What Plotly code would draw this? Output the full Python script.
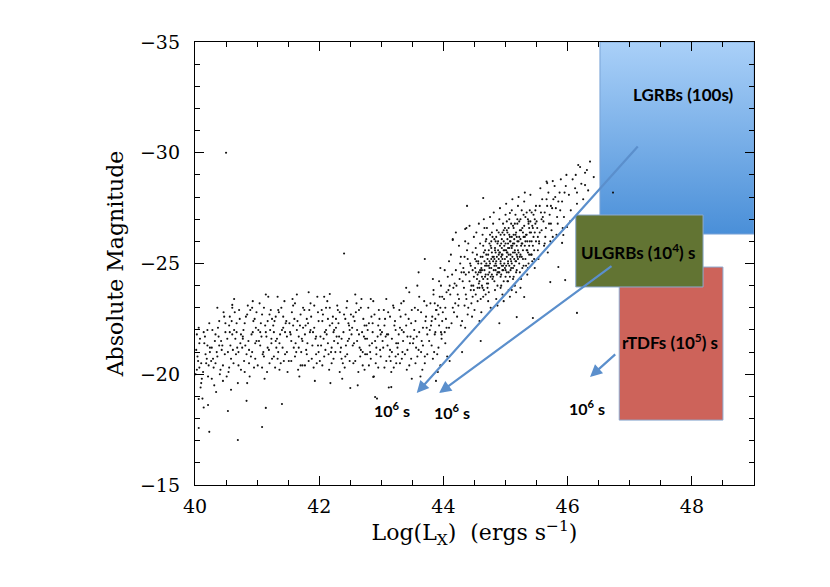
import plotly.graph_objects as go

# ---------------- data ----------------
band_pts = [
    (40.02,-21.1),(40.05,-20.6),(40.08,-21.6),(40.03,-20.2),(40.11,-19.8),(40.14,-21.9),(40.17,-20.9),(40.2,-21.3),(40.09,-19.4),(40.22,-20.4),(40.12,-18.9),(40.24,-21.0),(40.06,-22.1),(40.19,-20.7),(40.15,-21.4),(40.01,-20.0),(40.23,-22.3),(40.1,-20.5),
    (40.27,-21.2),(40.3,-20.3),(40.33,-21.8),(40.36,-20.8),(40.39,-22.4),(40.42,-21.5),(40.45,-19.7),(40.48,-20.9),(40.28,-22.0),(40.35,-21.0),(40.41,-20.2),(40.47,-22.6),(40.31,-19.5),(40.44,-21.3),(40.38,-21.7),(40.26,-20.6),(40.49,-21.9),(40.34,-19.2),
    (40.52,-21.6),(40.55,-22.2),(40.58,-20.7),(40.61,-21.1),(40.64,-22.8),(40.67,-21.9),(40.7,-20.4),(40.73,-21.4),(40.54,-20.1),(40.6,-23.0),(40.66,-20.9),(40.72,-22.5),(40.57,-21.3),(40.69,-19.6),(40.74,-21.8),(40.63,-22.0),(40.51,-19.9),(40.68,-21.2),(40.56,-22.6),
    (40.77,-21.7),(40.8,-22.3),(40.83,-20.9),(40.86,-21.5),(40.89,-22.9),(40.92,-21.0),(40.95,-20.3),(40.98,-22.1),(40.79,-20.6),(40.85,-23.1),(40.91,-21.8),(40.97,-20.7),(40.82,-22.6),(40.88,-19.9),(40.94,-22.4),(40.76,-21.2),(40.99,-21.5),(40.87,-20.5),(40.93,-23.3),
    (41.02,-22.0),(41.05,-21.3),(41.08,-22.7),(41.11,-20.8),(41.14,-21.9),(41.17,-22.4),(41.2,-20.5),(41.23,-21.6),(41.04,-23.2),(41.1,-21.0),(41.16,-20.1),(41.22,-22.9),(41.07,-21.7),(41.13,-22.2),(41.19,-21.1),(41.01,-20.4),(41.24,-22.5),(41.12,-19.8),(41.18,-23.5),
    (41.27,-21.9),(41.3,-22.6),(41.33,-20.7),(41.36,-21.4),(41.39,-23.0),(41.42,-22.1),(41.45,-20.9),(41.48,-21.7),(41.29,-20.3),(41.35,-22.8),(41.41,-21.2),(41.47,-22.4),(41.32,-21.6),(41.38,-20.5),(41.44,-23.3),(41.26,-22.2),(41.49,-20.1),(41.34,-21.0),(41.4,-22.0),
    (41.52,-22.3),(41.55,-21.5),(41.58,-23.1),(41.61,-20.8),(41.64,-22.0),(41.67,-21.2),(41.7,-22.7),(41.73,-20.4),(41.54,-21.8),(41.6,-22.5),(41.66,-20.2),(41.72,-21.6),(41.57,-23.4),(41.63,-21.0),(41.69,-22.2),(41.51,-20.6),(41.74,-23.0),(41.62,-21.4),(41.68,-19.9),
    (41.77,-21.8),(41.8,-22.5),(41.83,-20.6),(41.86,-23.2),(41.89,-21.3),(41.92,-22.1),(41.95,-20.9),(41.98,-22.8),(41.79,-21.1),(41.85,-21.9),(41.91,-20.3),(41.97,-23.5),(41.82,-22.3),(41.88,-20.7),(41.94,-21.6),(41.76,-22.9),(41.99,-21.0),(41.87,-22.6),(41.93,-19.7),
    (42.02,-21.7),(42.05,-22.4),(42.08,-20.8),(42.11,-23.0),(42.14,-21.4),(42.17,-22.2),(42.2,-20.5),(42.23,-21.9),(42.04,-22.9),(42.1,-21.1),(42.16,-20.2),(42.22,-22.6),(42.07,-21.6),(42.13,-23.3),(42.19,-21.0),(42.01,-20.6),(42.24,-22.0),(42.12,-21.8),(42.18,-19.6),
    (42.27,-22.1),(42.3,-21.4),(42.33,-22.8),(42.36,-20.7),(42.39,-21.9),(42.42,-22.5),(42.45,-20.9),(42.48,-21.6),(42.29,-23.1),(42.35,-21.2),(42.41,-20.3),(42.47,-22.3),(42.32,-21.7),(42.38,-20.5),(42.44,-23.0),(42.26,-21.0),(42.49,-22.0),(42.37,-19.8),(42.43,-21.3),
    (42.52,-21.8),(42.55,-22.6),(42.58,-20.6),(42.61,-21.5),(42.64,-22.9),(42.67,-21.1),(42.7,-20.4),(42.73,-22.2),(42.54,-21.3),(42.6,-23.2),(42.66,-20.8),(42.72,-21.7),(42.57,-22.4),(42.63,-20.1),(42.69,-21.9),(42.51,-22.7),(42.74,-20.9),(42.62,-19.5),(42.68,-23.4),
    (42.77,-21.6),(42.8,-22.3),(42.83,-20.7),(42.86,-21.9),(42.89,-22.7),(42.92,-21.2),(42.95,-20.3),(42.98,-22.0),(42.79,-23.0),(42.85,-21.4),(42.91,-20.5),(42.97,-22.5),(42.82,-21.0),(42.88,-19.9),(42.94,-21.7),(42.76,-22.2),(42.99,-20.8),(42.87,-23.3),(42.93,-18.9),
    (43.02,-21.5),(43.05,-22.2),(43.08,-20.6),(43.11,-21.8),(43.14,-22.6),(43.17,-21.0),(43.2,-20.3),(43.23,-22.0),(43.04,-22.9),(43.1,-21.3),(43.16,-20.1),(43.22,-22.4),(43.07,-21.7),(43.13,-20.8),(43.19,-23.1),(43.01,-21.9),(43.24,-20.5),(43.12,-19.4),
    (43.27,-21.4),(43.3,-22.1),(43.33,-20.7),(43.36,-21.9),(43.39,-22.7),(43.42,-21.1),(43.45,-20.4),(43.48,-22.3),(43.29,-22.9),(43.35,-21.5),(43.41,-20.2),(43.47,-21.7),(43.32,-23.2),(43.38,-20.9),(43.44,-22.5),(43.26,-21.2),(43.49,-19.8),
    (43.52,-21.6),(43.55,-22.4),(43.58,-20.8),(43.61,-21.9),(43.64,-22.8),(43.67,-21.3),(43.7,-20.5),(43.73,-22.1),(43.54,-23.0),(43.6,-21.1),(43.66,-20.2),(43.72,-22.6),(43.57,-21.7),(43.63,-19.9),(43.69,-23.3),(43.51,-21.4),(43.74,-20.9),
    (43.77,-21.5),(43.8,-22.2),(43.83,-20.7),(43.86,-21.8),(43.89,-22.9),(43.92,-21.2),(43.95,-20.4),(43.98,-22.4),(43.79,-23.2),(43.85,-21.0),(43.91,-20.1),(43.97,-21.6),(43.82,-22.6),(43.88,-19.7),(43.94,-23.5),
]

band_pts_2 = [
    (40.04,-20.8),(40.07,-21.4),(40.13,-20.1),(40.16,-21.7),(40.21,-19.9),(40.18,-20.5),(40.03,-21.8),(40.24,-21.2),(40.1,-19.6),(40.2,-22.0),(40.07,-20.3),(40.14,-18.5),
    (40.29,-20.7),(40.32,-21.5),(40.37,-22.1),(40.4,-20.0),(40.43,-21.1),(40.46,-22.8),(40.27,-19.8),(40.33,-20.5),(40.39,-21.3),(40.45,-20.4),(40.49,-22.3),(40.36,-23.0),
    (40.53,-21.0),(40.56,-21.9),(40.59,-22.4),(40.62,-20.5),(40.65,-21.6),(40.71,-22.9),(40.74,-20.2),(40.55,-20.3),(40.6,-21.8),(40.67,-22.3),(40.7,-21.0),(40.58,-19.3),(40.63,-23.4),
    (40.78,-22.0),(40.81,-21.3),(40.84,-22.7),(40.9,-20.8),(40.93,-21.9),(40.96,-22.5),(40.8,-20.1),(40.87,-21.1),(40.92,-23.0),(40.97,-21.4),(40.84,-19.6),(40.99,-22.8),(40.77,-21.6),
    (41.03,-21.5),(41.06,-22.3),(41.09,-20.9),(41.15,-21.7),(41.21,-22.0),(41.24,-20.7),(41.05,-21.9),(41.11,-23.0),(41.17,-21.2),(41.2,-22.7),(41.08,-20.3),(41.14,-23.6),(41.23,-21.4),
    (41.28,-22.4),(41.31,-21.2),(41.34,-22.9),(41.37,-21.8),(41.43,-20.6),(41.46,-22.3),(41.3,-21.5),(41.36,-20.2),(41.42,-22.6),(41.48,-21.0),(41.33,-23.5),(41.45,-21.9),(41.27,-20.8),
    (41.53,-21.9),(41.56,-22.8),(41.59,-21.2),(41.65,-22.4),(41.71,-21.0),(41.74,-22.1),(41.55,-20.6),(41.61,-23.2),(41.67,-21.7),(41.7,-20.4),(41.58,-22.2),(41.64,-23.6),(41.73,-21.5),
    (41.78,-22.2),(41.81,-21.4),(41.84,-22.9),(41.9,-21.9),(41.96,-20.5),(41.99,-22.4),(41.8,-20.9),(41.86,-22.0),(41.92,-23.1),(41.98,-21.3),(41.83,-23.7),(41.95,-21.7),(41.77,-20.4),
    (42.03,-21.3),(42.06,-22.7),(42.09,-21.9),(42.15,-20.9),(42.21,-22.3),(42.24,-21.5),(42.05,-20.4),(42.11,-22.0),(42.17,-23.0),(42.2,-21.2),(42.08,-23.5),(42.14,-22.5),(42.23,-20.7),
    (42.28,-21.7),(42.31,-22.3),(42.34,-21.0),(42.4,-22.7),(42.46,-21.5),(42.49,-20.6),(42.3,-22.9),(42.36,-21.6),(42.42,-20.8),(42.48,-22.2),(42.33,-20.1),(42.45,-23.3),(42.27,-22.5),
    (42.53,-22.1),(42.56,-21.4),(42.59,-22.8),(42.65,-21.2),(42.71,-22.5),(42.74,-21.6),(42.55,-20.5),(42.61,-22.0),(42.67,-23.0),(42.7,-21.0),(42.58,-23.6),(42.64,-21.8),(42.73,-20.2),
    (42.78,-22.0),(42.81,-21.3),(42.84,-22.6),(42.9,-21.5),(42.96,-22.9),(42.99,-21.8),(42.8,-20.4),(42.86,-22.3),(42.92,-20.9),(42.98,-21.1),(42.83,-23.4),(42.95,-22.2),(42.77,-20.9),
    (43.03,-21.2),(43.06,-22.5),(43.09,-21.8),(43.15,-20.6),(43.21,-22.2),(43.24,-21.4),(43.05,-20.3),(43.11,-22.8),(43.17,-21.6),(43.2,-23.0),(43.08,-23.4),(43.14,-21.1),(43.23,-20.8),
    (43.28,-21.8),(43.31,-22.6),(43.34,-21.0),(43.4,-22.2),(43.46,-21.4),(43.49,-22.9),(43.3,-20.5),(43.36,-23.3),(43.42,-21.7),(43.48,-20.7),(43.33,-22.0),(43.45,-23.7),(43.27,-20.9),
    (43.53,-22.0),(43.56,-21.2),(43.59,-22.9),(43.65,-21.5),(43.71,-22.4),(43.74,-21.8),(43.55,-20.5),(43.61,-23.5),(43.67,-22.1),(43.7,-20.8),(43.58,-24.0),(43.64,-21.0),(43.73,-23.1),
    (43.78,-22.0),(43.81,-21.3),(43.87,-22.5),(43.9,-20.9),(43.96,-21.9),(43.99,-22.8),(44.03,-21.4),(44.06,-20.8),(44.09,-22.1),(43.84,-23.8),(43.93,-24.2),(44.02,-21.9),
]

rise_pts = [
    (43.81,-22.4),(43.84,-23.6),(43.87,-21.9),(43.83,-24.3),(43.88,-22.9),(43.86,-23.2),
    (43.91,-23.1),(43.93,-22.2),(43.96,-24.0),(43.92,-22.7),(43.98,-23.5),(43.95,-24.8),(43.97,-21.8),
    (44.01,-23.4),(44.04,-22.5),(44.07,-24.4),(44.03,-23.0),(44.09,-25.1),(44.05,-22.1),(44.08,-23.8),(44.02,-24.7),
    (44.11,-23.6),(44.14,-24.5),(44.17,-22.8),(44.12,-25.4),(44.19,-23.2),(44.15,-26.1),(44.13,-22.3),(44.18,-24.1),(44.16,-23.9),
    (44.21,-24.0),(44.24,-23.1),(44.27,-25.0),(44.22,-22.6),(44.29,-24.6),(44.25,-25.8),(44.23,-23.6),(44.28,-22.2),(44.26,-24.3),(44.2,-26.4),
    (44.31,-24.2),(44.34,-25.3),(44.37,-23.4),(44.32,-24.8),(44.39,-22.7),(44.35,-26.0),(44.33,-23.9),(44.38,-25.6),(44.36,-24.5),(44.3,-22.4),(44.37,-26.6),(44.34,-23.1),
    (44.41,-24.6),(44.44,-23.8),(44.47,-25.5),(44.42,-24.2),(44.49,-26.2),(44.45,-23.2),(44.43,-25.0),(44.48,-24.0),(44.46,-22.6),(44.4,-25.9),(44.44,-24.9),(44.47,-23.5),(44.42,-26.7),(44.49,-24.4),
    (44.51,-24.8),(44.54,-25.4),(44.57,-24.1),(44.52,-23.6),(44.59,-25.9),(44.55,-24.5),(44.53,-26.4),(44.58,-23.9),(44.56,-25.1),(44.5,-22.9),(44.54,-24.3),(44.57,-26.8),(44.52,-25.7),(44.59,-24.7),(44.55,-23.3),(44.51,-25.2),(44.58,-22.4),
    (44.61,-25.0),(44.64,-24.3),(44.67,-25.6),(44.62,-24.7),(44.69,-26.1),(44.65,-23.8),(44.63,-25.3),(44.68,-24.5),(44.66,-26.6),(44.6,-23.4),(44.64,-25.8),(44.67,-24.9),(44.62,-24.0),(44.69,-25.4),(44.65,-27.0),(44.61,-22.8),(44.68,-23.6),(44.63,-26.3),(44.66,-25.1),(44.6,-24.6),
    (44.71,-25.2),(44.74,-24.6),(44.77,-25.7),(44.72,-24.1),(44.79,-26.2),(44.75,-25.0),(44.73,-23.7),(44.78,-25.5),(44.76,-24.4),(44.7,-26.6),(44.74,-25.9),(44.77,-24.8),(44.72,-23.3),(44.79,-25.3),(44.75,-27.1),(44.71,-24.3),(44.78,-26.4),(44.73,-25.6),(44.76,-23.0),(44.7,-24.9),(44.74,-25.1),(44.77,-26.0),(44.72,-24.5),
    (44.81,-25.3),(44.84,-24.7),(44.87,-25.9),(44.82,-24.2),(44.89,-26.4),(44.85,-25.1),(44.83,-23.8),(44.88,-25.6),(44.86,-24.5),(44.8,-26.8),(44.84,-25.0),(44.87,-24.0),(44.82,-26.1),(44.89,-25.4),(44.85,-23.4),(44.81,-27.3),(44.88,-24.8),(44.83,-25.7),(44.86,-26.5),(44.8,-24.4),(44.84,-25.5),(44.87,-23.1),(44.82,-25.2),(44.89,-24.6),(44.85,-26.2),
    (44.91,-25.5),(44.94,-24.9),(44.97,-26.0),(44.92,-24.4),(44.99,-26.6),(44.95,-25.2),(44.93,-24.0),(44.98,-25.8),(44.96,-24.7),(44.9,-27.0),(44.94,-25.4),(44.97,-24.2),(44.92,-26.3),(44.99,-25.6),(44.95,-23.6),(44.91,-27.5),(44.98,-25.0),(44.93,-25.9),(44.96,-26.8),(44.9,-24.6),(44.94,-25.7),(44.97,-23.3),(44.92,-25.1),(44.99,-24.8),(44.95,-26.4),(44.93,-25.3),
    (45.01,-25.6),(45.04,-25.0),(45.07,-26.2),(45.02,-24.6),(45.09,-26.8),(45.05,-25.4),(45.03,-24.2),(45.08,-26.0),(45.06,-24.9),(45.0,-27.2),(45.04,-25.7),(45.07,-24.4),(45.02,-26.5),(45.09,-25.8),(45.05,-23.8),(45.01,-27.7),(45.08,-25.2),(45.03,-26.1),(45.06,-27.0),(45.0,-24.7),(45.04,-25.9),(45.07,-23.5),(45.02,-25.3),(45.09,-25.1),(45.05,-26.6),(45.03,-25.5),
    (45.11,-25.8),(45.14,-25.2),(45.17,-26.4),(45.12,-24.8),(45.19,-27.0),(45.15,-25.6),(45.13,-24.4),(45.18,-26.2),(45.16,-25.1),(45.1,-27.4),(45.14,-25.9),(45.17,-24.6),(45.12,-26.7),(45.19,-26.0),(45.15,-24.0),(45.11,-27.9),(45.18,-25.4),(45.13,-26.3),(45.16,-27.2),(45.1,-25.0),(45.14,-26.1),(45.17,-23.7),(45.12,-25.5),(45.19,-25.3),
    (45.21,-26.0),(45.24,-25.4),(45.27,-26.6),(45.22,-25.0),(45.29,-27.2),(45.25,-25.8),(45.23,-24.6),(45.28,-26.4),(45.26,-25.3),(45.2,-27.6),(45.24,-26.1),(45.27,-24.8),(45.22,-26.9),(45.29,-26.2),(45.25,-24.3),(45.21,-28.0),(45.28,-25.6),(45.23,-26.5),(45.26,-27.4),(45.2,-25.2),(45.24,-23.9),
    (45.31,-26.2),(45.34,-25.6),(45.37,-26.8),(45.32,-25.2),(45.39,-27.4),(45.35,-26.0),(45.33,-24.9),(45.38,-26.6),(45.36,-25.5),(45.3,-27.8),(45.34,-26.3),(45.37,-25.0),(45.32,-27.1),(45.39,-26.4),(45.35,-24.5),(45.31,-28.2),(45.38,-25.8),(45.36,-27.0),
    (45.41,-26.4),(45.44,-25.8),(45.47,-27.0),(45.42,-25.4),(45.49,-27.6),(45.45,-26.2),(45.43,-25.1),(45.48,-26.8),(45.46,-25.6),(45.4,-28.1),(45.44,-26.6),(45.47,-24.8),(45.42,-27.3),(45.49,-26.0),
    (45.51,-26.6),(45.54,-26.0),(45.57,-27.3),(45.52,-25.6),(45.59,-27.9),(45.55,-26.4),(45.53,-25.2),(45.58,-27.0),(45.56,-28.4),(45.5,-26.9),(45.54,-25.9),
    (45.61,-26.9),(45.64,-26.2),(45.67,-27.6),(45.62,-25.8),(45.69,-28.2),(45.65,-26.6),(45.63,-27.3),(45.68,-25.5),(45.66,-28.7),
    (45.71,-27.2),(45.74,-26.5),(45.77,-27.9),(45.72,-26.0),(45.79,-28.5),(45.75,-27.5),(45.73,-26.8),
    (45.81,-27.5),(45.84,-26.8),(45.87,-28.2),(45.82,-26.3),(45.89,-28.8),(45.85,-27.8),
    (45.91,-27.8),(45.94,-27.1),(45.97,-28.5),(45.92,-26.6),(45.98,-29.0),
    (46.02,-28.1),(46.05,-27.4),(46.08,-28.8),(46.04,-26.9),
    (46.12,-28.4),(46.15,-27.7),(46.17,-29.45),(46.13,-29.0),
    (46.22,-28.6),(46.25,-27.9),(46.28,-29.1),
    (46.33,-28.3),(46.36,-29.6),(46.42,-28.9),
]

rise_pts_2 = [
    (44.52,-24.6),(44.56,-25.0),(44.58,-24.2),(44.61,-24.8),(44.63,-23.9),(44.65,-25.5),(44.67,-24.4),(44.69,-25.0),(44.7,-24.1),(44.72,-25.4),(44.74,-24.8),(44.76,-25.8),(44.78,-24.5),(44.8,-25.1),(44.81,-24.7),(44.83,-25.6),(44.85,-24.9),(44.86,-25.3),(44.88,-26.0),(44.89,-25.2),(44.9,-24.8),(44.91,-25.8),(44.92,-25.0),(44.93,-24.5),(44.94,-26.1),(44.95,-25.4),(44.96,-24.9),(44.97,-25.6),(44.98,-26.3),(44.99,-25.2),(45.0,-25.9),(45.01,-24.9),(45.02,-25.5),(45.03,-26.4),(45.04,-25.1),(45.05,-24.6),(45.06,-25.7),(45.07,-26.0),(45.08,-25.4),(45.09,-24.8),(45.1,-26.2),(45.11,-25.3),(45.12,-25.9),(45.13,-26.6),(45.14,-24.9),(45.15,-25.5),(45.16,-26.3),(45.17,-25.1),(45.18,-25.8),(45.19,-26.8),(45.2,-25.6),(45.22,-26.2),(45.23,-25.3),(45.25,-26.5),(45.26,-25.9),(45.28,-25.2),(45.3,-26.7),(45.31,-25.8),(45.33,-26.3),(45.35,-25.6),(45.37,-26.9),(45.39,-26.0),(45.41,-25.4),(45.43,-26.7),(45.45,-27.2),(45.47,-26.4),
    (44.45,-24.0),(44.47,-24.7),(44.49,-23.8),(44.53,-25.1),(44.55,-23.9),(44.57,-24.6),(44.6,-25.3),(44.62,-24.4),(44.64,-23.5),(44.66,-24.7),(44.68,-26.0),(44.71,-23.9),(44.73,-24.9),(44.75,-26.3),(44.77,-25.2),(44.79,-24.3),(44.82,-24.9),(44.84,-26.0),(44.87,-24.6),(44.9,-25.5),(44.92,-23.9),(44.95,-24.7),(44.97,-26.5),(45.0,-24.4),(45.02,-26.9),(45.04,-24.2),(45.06,-26.3),(45.08,-24.7),(45.1,-25.7),(45.12,-24.3),(45.15,-26.8),(45.18,-24.7),(45.21,-25.5),(45.24,-27.0),(45.27,-25.9),(45.29,-24.9),(45.32,-26.0),(45.34,-27.3),(45.36,-24.8),(45.38,-25.4),(45.4,-26.9),(45.42,-26.0),(45.46,-25.2),(45.48,-27.4),(45.52,-26.2),(45.55,-27.6),(45.58,-26.5),(45.6,-27.1),(45.63,-25.9),(45.66,-27.9),(45.7,-26.8),(45.73,-27.6),(45.76,-26.2),(45.8,-28.0),(45.83,-27.1),(45.88,-27.4),(45.95,-28.2),
    (44.2,-24.7),(44.25,-23.4),(44.28,-25.3),(44.33,-24.6),(44.36,-23.6),(44.39,-25.2),(44.1,-24.0),(44.05,-23.7),(44.15,-23.0),(44.4,-23.0),(44.35,-22.1),(43.95,-23.0),
]

sparse_pts = [
    (40.5,-30.0),(40.06,-17.57),(40.23,-17.4),(40.69,-17.03),(41.08,-17.62),(41.14,-18.48),(40.53,-18.34),
    (40.06,-18.88),(40.21,-18.61),(41.4,-18.66),(40.83,-18.8),(40.6,-23.13),(42.17,-23.62),(42.87,-19.88),
    (43.16,-19.42),(42.9,-18.97),(42.5,-19.38),(42.4,-25.45),(45.3,-23.49),(45.44,-22.54),(46.15,-22.77),
    (45.1,-23.8),(45.85,-24.84),(45.72,-24.16),(45.18,-22.58),(44.38,-27.6),(44.64,-27.96),(45.07,-27.28),
    (45.67,-28.63),(45.76,-28.72),(46.28,-28.54),(44.35,-26.56),(44.15,-26.06),(46.2,-29.36),(46.31,-29.22),
    (46.15,-28.2),(46.73,-28.2),(45.99,-26.65),(45.93,-26.29),(45.91,-25.93),(45.96,-24.25),
    (44.3,-21.0),(44.6,-21.5),(43.6,-24.6),(43.4,-23.9),(43.7,-25.2),(44.9,-22.3),(44.1,-20.6),
]

# coloured boxes: [x0, x1, y_bottom, y_top]
lgrb_box = [46.52, 49.0, -26.33, -35.0]
ulgrb_box = [46.13, 48.18, -23.94, -27.19]
rtdf_box = [46.83, 48.50, -17.93, -24.84]

box_labels = ["LGRBs (100s)", "ULGRBs (10<sup>4</sup>) s", "rTDFs (10<sup>5</sup>) s"]
box_label_x = [47.86, 47.13, 47.65]
box_label_y = [-32.61, -25.52, -21.46]

# arrows: tails and heads (data units)
arrow_tail_x = [47.15, 46.73, 46.79]
arrow_tail_y = [-30.35, -24.93, -20.96]
arrow_head_x = [43.57, 43.93, 46.36]
arrow_head_y = [-19.15, -19.15, -19.88]

end_label = "10<sup>6</sup> s"
end_label_x = [43.17, 44.14, 46.31]
end_label_y = [-18.39, -18.30, -18.48]

x_ticks = [40, 42, 44, 46, 48]
y_ticks = [-35, -30, -25, -20, -15]
y_ticktext = ["\u221235", "\u221230", "\u221225", "\u221220", "\u221215"]

# ---------------- figure ----------------
fig = go.Figure()

# blue gradient box (behind points)
bx = [lgrb_box[0], lgrb_box[1], lgrb_box[1], lgrb_box[0], lgrb_box[0]]
by = [lgrb_box[2], lgrb_box[2], lgrb_box[3], lgrb_box[3], lgrb_box[2]]
fig.add_trace(go.Scatter(
    x=bx, y=by, mode="lines", fill="toself",
    line=dict(color="#7aa3d6", width=1),
    fillgradient=dict(type="vertical",
                      colorscale=[[0, "#4a8fd8"], [1, "#aad0f8"]],
                      start=lgrb_box[2], stop=lgrb_box[3]),
    hoverinfo="skip", showlegend=False))

all_pts = band_pts + band_pts_2 + rise_pts + rise_pts_2 + sparse_pts
fig.add_trace(go.Scatter(
    x=[p[0] for p in all_pts], y=[p[1] for p in all_pts],
    mode="markers", marker=dict(color="#111111", size=2.1),
    hoverinfo="skip", showlegend=False))

# red and green boxes drawn above points
for box, col in [(rtdf_box, "#cd635a"), (ulgrb_box, "#627433")]:
    fig.add_shape(type="rect", xref="x", yref="y",
                  x0=box[0], x1=box[1], y0=box[2], y1=box[3],
                  fillcolor=col, line=dict(color="#8caad0", width=1),
                  layer="above")

lab_font = dict(family="Lato, 'Open Sans', sans-serif", size=17, color="black")
for t, x, y in zip(box_labels, box_label_x, box_label_y):
    fig.add_annotation(x=x, y=y, xref="x", yref="y", text="<b>" + t + "</b>",
                       showarrow=False, font=lab_font)

for tx, ty, hx, hy in zip(arrow_tail_x, arrow_tail_y, arrow_head_x, arrow_head_y):
    fig.add_annotation(x=hx, y=hy, ax=tx, ay=ty, xref="x", yref="y",
                       axref="x", ayref="y", text="", showarrow=True,
                       arrowhead=2, arrowsize=1.1, arrowwidth=2.2,
                       arrowcolor="#5b8fcc")

end_font = dict(family="Lato, 'Open Sans', sans-serif", size=16, color="black")
for x, y in zip(end_label_x, end_label_y):
    fig.add_annotation(x=x, y=y, xref="x", yref="y", text="<b>" + end_label + "</b>",
                       showarrow=False, font=end_font)

tick_font = dict(family="DejaVu Serif, serif", size=19, color="black")
title_font = dict(family="DejaVu Serif, serif", size=22, color="black")
common = dict(showline=True, linecolor="black", linewidth=1.3, mirror="allticks",
              ticks="inside", ticklen=9, tickwidth=1.2, tickcolor="black",
              showgrid=False, zeroline=False, tickfont=tick_font)

fig.update_xaxes(range=[40, 49], tickvals=x_ticks,
                 minor=dict(dtick=0.5, ticks="inside", ticklen=5, tickcolor="black", tickwidth=1),
                 title=dict(text="Log(L<sub>X</sub>)  (ergs s<sup>\u22121</sup>)",
                            font=title_font, standoff=6),
                 ticklabelstandoff=4, **common)
fig.update_yaxes(range=[-15, -35], tickvals=y_ticks, ticktext=y_ticktext,
                 minor=dict(dtick=1, ticks="inside", ticklen=5, tickcolor="black", tickwidth=1),
                 title=dict(text="Absolute Magnitude", font=title_font, standoff=10),
                 ticklabelstandoff=10, **common)

# the page adds an 8px body margin, so the margins below are offset by it
fig.update_layout(
    width=830, height=587,
    margin=dict(l=187, r=84, t=34, b=110, autoexpand=False),
    paper_bgcolor="white", plot_bgcolor="white",
    showlegend=False,
)

fig.write_html("out.html")
